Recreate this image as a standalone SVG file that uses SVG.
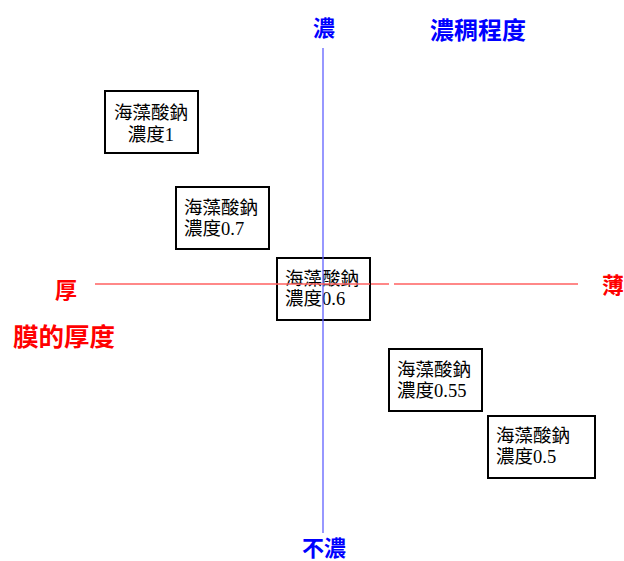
<svg xmlns="http://www.w3.org/2000/svg" width="624" height="561" viewBox="0 0 624 561">
<style>
.box{fill:#fff;stroke:#000;stroke-width:2}
.t{font-family:"Liberation Serif","Noto Sans CJK TC",serif;font-size:18.5px;fill:#000}
.b{font-family:"Liberation Sans","Noto Sans CJK TC",sans-serif;font-weight:bold;fill:#0000ff}
.r{font-family:"Liberation Sans","Noto Sans CJK TC",sans-serif;font-weight:bold;fill:#ff0000}
</style>
<rect width="624" height="561" fill="#fff"/>
<g id="axes">
<line x1="95" y1="284" x2="389" y2="284" stroke="#ff6060" stroke-width="1.3"/>
<line x1="394" y1="284" x2="578" y2="284" stroke="#ff6060" stroke-width="1.3"/>
</g>
<g id="n1"><rect class="box" x="105" y="91" width="93" height="62"/>
<text class="t" x="151" y="119" text-anchor="middle">海藻酸鈉</text>
<text class="t" x="151" y="141" text-anchor="middle">濃度1</text></g>
<g id="n2"><rect class="box" x="176" y="187" width="93" height="62"/>
<text class="t" x="184" y="214">海藻酸鈉</text>
<text class="t" x="184" y="235">濃度0.7</text></g>
<g id="n3"><rect class="box" x="277" y="258" width="93" height="62"/>
<text class="t" x="285" y="285">海藻酸鈉</text>
<text class="t" x="285" y="305">濃度0.6</text></g>
<g id="n4"><rect class="box" x="389" y="349" width="93" height="62"/>
<text class="t" x="397" y="376">海藻酸鈉</text>
<text class="t" x="397" y="397">濃度0.55</text></g>
<g id="n5"><rect class="box" x="488" y="416" width="107" height="62"/>
<text class="t" x="496" y="442">海藻酸鈉</text>
<text class="t" x="496" y="463">濃度0.5</text></g>
<g id="vaxis">
<line x1="323" y1="48" x2="323" y2="533" stroke="#6060ff" stroke-width="1.3"/>
<line x1="276" y1="284" x2="370" y2="284" stroke="#ff6060" stroke-width="1.3"/>
</g>
<g id="labels">
<text class="b" x="324" y="36" font-size="22" text-anchor="middle">濃</text>
<text class="b" x="430" y="39" font-size="24">濃稠程度</text>
<text class="b" x="324" y="556" font-size="22" text-anchor="middle">不濃</text>
<text class="r" x="66" y="298" font-size="22" text-anchor="middle">厚</text>
<text class="r" x="13" y="346" font-size="25.5">膜的厚度</text>
<text class="r" x="613" y="293" font-size="22" text-anchor="middle">薄</text>
</g>
</svg>
